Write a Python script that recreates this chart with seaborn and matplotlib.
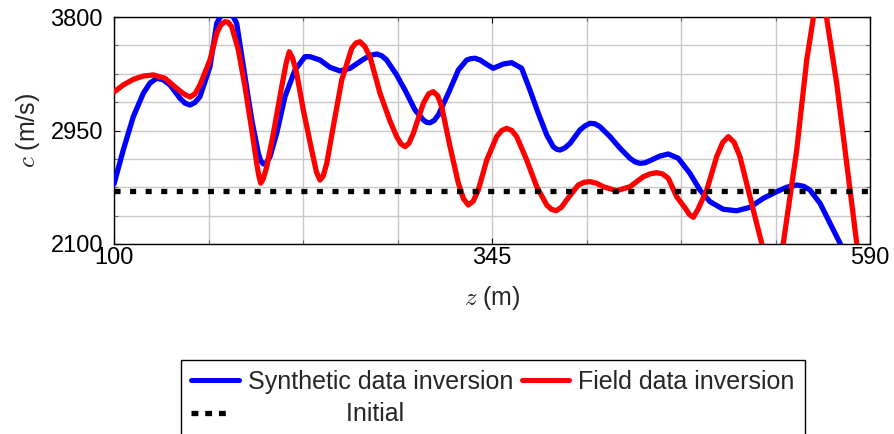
import matplotlib
matplotlib.use("Agg")
import matplotlib.pyplot as plt
import seaborn as sns
import pandas as pd
from matplotlib.ticker import FixedLocator
from matplotlib.lines import Line2D

# ---- data ----
synth_z = [100.0, 106.0, 112.5, 119.0, 123.3, 127.7, 131.8, 136.3, 142.8, 146.0,
           149.3, 152.5, 155.7, 162.2, 166.6, 173.2, 179.5, 184.9, 189.3, 193.5,
           195.0, 196.8, 198.8, 201.1, 205.5, 210.8, 217.3, 223.8, 227.0, 233.5,
           240.0, 246.5, 253.0, 261.6, 266.0, 270.3, 273.5, 276.7, 283.2, 288.6,
           295.1, 300.5, 302.5, 304.8, 307.5, 310.2, 316.7, 323.2, 328.6, 331.3,
           334.0, 337.3, 340.5, 345.8, 352.3, 357.8, 364.2, 369.6, 375.0, 380.5,
           384.7, 386.8, 389.1, 392.3, 395.6, 402.0, 405.3, 408.5, 411.8, 415.0,
           421.5, 428.0, 434.4, 437.7, 440.9, 444.2, 447.4, 453.9, 459.3, 465.7,
           473.3, 479.8, 486.3, 494.9, 503.6, 512.2, 520.8, 529.5, 536.0, 542.5,
           547.0, 551.1, 557.6, 564.1, 570.6, 580.3, 590.0]
synth_c = [2549, 2804, 3053, 3229, 3305, 3341, 3330, 3291, 3191, 3155,
           3141, 3160, 3203, 3428, 3753, 3890, 3753, 3353, 3029, 2781,
           2725, 2699, 2710, 2754, 2931, 3203, 3403, 3503, 3503, 3478,
           3423, 3396, 3416, 3483, 3512, 3523, 3510, 3478, 3366, 3253,
           3104, 3029, 3012, 3008, 3025, 3066, 3229, 3403, 3478, 3488,
           3491, 3478, 3453, 3416, 3448, 3458, 3416, 3253, 3079, 2916,
           2829, 2810, 2804, 2820, 2854, 2954, 2985, 3004, 3000, 2978,
           2904, 2817, 2742, 2715, 2704, 2708, 2724, 2759, 2774, 2742,
           2629, 2504, 2417, 2360, 2349, 2375, 2442, 2492, 2525, 2542,
           2532, 2504, 2405, 2255, 2105, 1868, 1643]

field_z = [100.0, 106.0, 112.5, 119.0, 125.5, 133.1, 140.6, 145.5, 149.3, 152.5,
           155.7, 162.2, 166.6, 169.2, 171.9, 174.0, 176.3, 180.6, 184.9, 189.3,
           192.5, 193.8, 195.1, 196.8, 199.0, 203.3, 208.7, 211.5, 213.6, 215.8,
           218.4, 222.7, 228.1, 231.2, 233.5, 235.6, 237.9, 242.1, 247.6, 254.1,
           256.8, 259.4, 262.5, 265.9, 272.4, 278.9, 283.2, 286.0, 288.6, 291.2,
           294.0, 300.5, 304.0, 306.9, 309.8, 312.4, 317.8, 323.2, 326.5, 329.6,
           332.8, 336.1, 341.6, 348.0, 351.3, 354.5, 357.8, 361.0, 367.5, 374.0,
           380.5, 383.5, 386.5, 390.0, 393.4, 400.9, 404.7, 408.5, 412.8, 417.1,
           425.8, 434.4, 443.1, 447.4, 451.7, 455.5, 459.3, 464.7, 470.1, 473.0,
           475.5, 478.5, 484.2, 490.6, 494.5, 498.2, 502.0, 505.7, 512.2, 519.8,
           526.5, 533.8, 542.5, 549.0, 553.2, 556.9, 561.9, 568.4, 574.9, 581.4,
           590.0]
field_c = [3238, 3291, 3333, 3358, 3366, 3341, 3266, 3222, 3201, 3225,
           3291, 3478, 3678, 3740, 3765, 3760, 3727, 3553, 3278, 2954,
           2704, 2615, 2555, 2590, 2679, 2929, 3278, 3450, 3540, 3490,
           3378, 3104, 2804, 2640, 2579, 2610, 2704, 2978, 3328, 3566,
           3605, 3615, 3580, 3503, 3229, 3021, 2904, 2850, 2829, 2855,
           2929, 3154, 3225, 3241, 3210, 3128, 2829, 2555, 2440, 2392,
           2420, 2504, 2729, 2904, 2950, 2966, 2950, 2904, 2729, 2529,
           2392, 2360, 2349, 2375, 2430, 2542, 2562, 2567, 2555, 2529,
           2499, 2529, 2604, 2625, 2634, 2625, 2592, 2454, 2370, 2320,
           2300, 2360, 2504, 2754, 2860, 2904, 2860, 2754, 2454, 2105,
           1868, 2105, 2804, 3478, 3790, 3965, 3790, 3303, 2704, 2105,
           1456]

init_z = [100, 590]
init_c = [2495, 2495]

x_ticks = [100, 345, 590]
y_ticks = [2100, 2950, 3800]

# ---- figure ----
sns.set_theme(style="white")
plt.rcParams["font.family"] = ["Liberation Sans", "DejaVu Sans"]
plt.rcParams["mathtext.fontset"] = "cm"

W, H = 894, 434
fig = plt.figure(figsize=(W / 100, H / 100), dpi=100)
ax = fig.add_axes([114 / W, 1 - 244 / H, (870 - 114) / W, (244 - 17) / H])

df_s = pd.DataFrame({"z": synth_z, "c": synth_c})
df_f = pd.DataFrame({"z": field_z, "c": field_c})
df_i = pd.DataFrame({"z": init_z, "c": init_c})

lw = 3.8
sns.lineplot(data=df_s, x="z", y="c", ax=ax, color="#0000ff", lw=lw, sort=False,
             estimator=None, zorder=3, solid_joinstyle="round")
sns.lineplot(data=df_f, x="z", y="c", ax=ax, color="#ff0000", lw=lw, sort=False,
             estimator=None, zorder=4, solid_joinstyle="round")
sns.lineplot(data=df_i, x="z", y="c", ax=ax, color="black", lw=3.8, sort=False,
             estimator=None, zorder=5)
ax.lines[-1].set_dashes([1.15, 1.8])

ax.set_xlim(100, 590)
ax.set_ylim(2100, 3800)
ax.xaxis.set_major_locator(FixedLocator(x_ticks))
ax.yaxis.set_major_locator(FixedLocator(y_ticks))
ax.xaxis.set_minor_locator(FixedLocator([100 + 61.25 * k for k in range(1, 8)]))
ax.yaxis.set_minor_locator(FixedLocator([2100 + 212.5 * k for k in range(1, 8)]))
ax.grid(True, which="both", color="#c8c8c8", lw=1.0, zorder=0)
ax.set_axisbelow(True)
ax.tick_params(which="both", direction="in", color="#666666", length=4, width=0.8,
               top=True, right=True, bottom=True, left=True)
ax.tick_params(axis="x", which="major", labelsize=17, pad=2.5, colors="black")
ax.tick_params(axis="y", which="major", labelsize=17, pad=8, colors="black")
ax.tick_params(which="minor", length=3)
for s in ax.spines.values():
    s.set_color("black")
    s.set_linewidth(1.0)

ax.set_xlabel("$z$ (m)", fontsize=18)
ax.set_ylabel("$c$ (m/s)", fontsize=18)
ax.xaxis.label.set_va("center")
ax.yaxis.label.set_va("center")
ax.xaxis.set_label_coords(0.5, (244 - 298) / 227)
ax.yaxis.set_label_coords((28 - 114) / 756, 0.5)

handles = [Line2D([], [], color="#0000ff", lw=3.6),
           Line2D([], [], color="black", lw=3.8, dashes=[1.3, 1.3, 1.3, 1.3, 1.3, 6]),
           Line2D([], [], color="#ff0000", lw=3.6)]
labels = ["Synthetic data inversion", " " * 14 + "Initial", "Field data inversion"]
leg = fig.legend(handles, labels, ncol=2, loc="upper left",
                 bbox_to_anchor=(181 / W, 1 - 360 / H), borderaxespad=0,
                 fontsize=18, frameon=True, fancybox=False, framealpha=1,
                 edgecolor="black", handlelength=1.9, handletextpad=0.36,
                 columnspacing=0.36, borderpad=0.4, labelspacing=0.33)
leg.get_frame().set_linewidth(1.0)

fig.savefig("out.png", dpi=100)
